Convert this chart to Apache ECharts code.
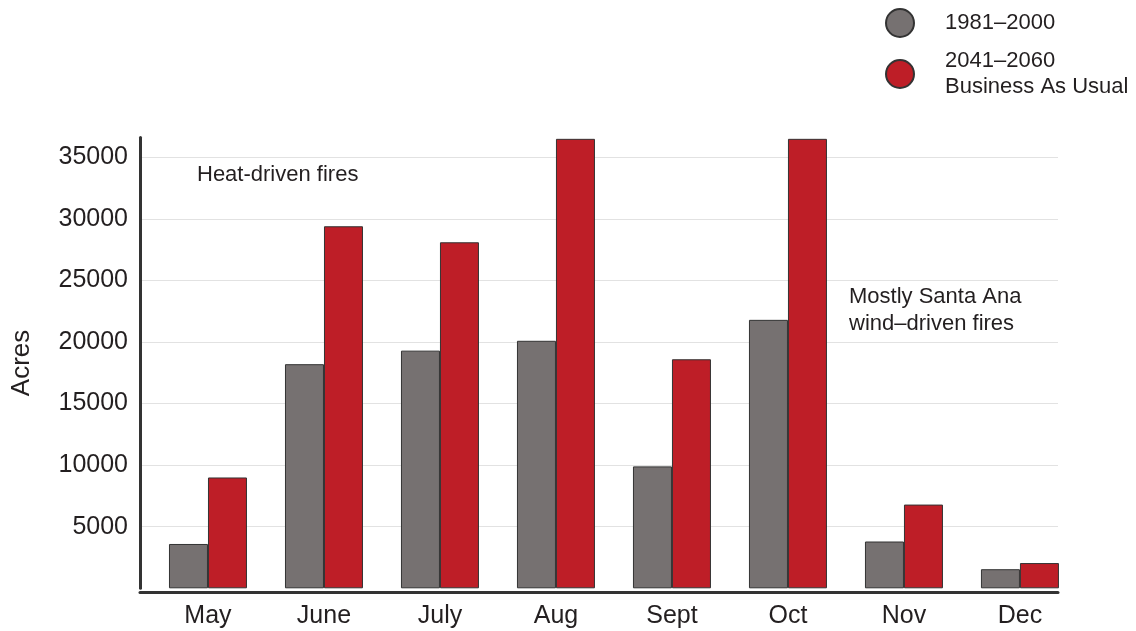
<!DOCTYPE html>
<html>
<head>
<meta charset="utf-8">
<script src="https://cdn.jsdelivr.net/npm/echarts@6/dist/echarts.min.js"></script>
<style>
html,body{margin:0;padding:0;background:#fff;}
#chart{width:1136px;height:631px;}
</style>
</head>
<body>
<div id="chart"></div>
<script>
const categories = ['May', 'June', 'July', 'Aug', 'Sept', 'Oct', 'Nov', 'Dec'];
const baseline1981 = [3600, 18200, 19300, 20100, 9900, 21800, 3800, 1550];
const bau2041 = [9000, 29400, 28100, 36500, 18600, 36500, 6800, 2050];
const seriesNames = ['1981–2000', '2041–2060\nBusiness As Usual'];
const yAxisName = 'Acres';
const yMax = 36600;
const yInterval = 5000;

const FONT = '"Liberation Sans", Arial, Helvetica, sans-serif';
const TXT = '#231f20';

const chart = echarts.init(document.getElementById('chart'), null, {renderer: 'canvas'});
const catIdx = categories.map((c, i) => i);

chart.setOption({
  animation: false,
  backgroundColor: '#ffffff',
  textStyle: {fontFamily: FONT, color: TXT},
  grid: {left: 140, right: 78, top: 137.6, bottom: 42.7, containLabel: false},
  legend: {
    orient: 'vertical',
    left: 885,
    top: 8,
    padding: 0,
    itemWidth: 28,
    itemHeight: 28,
    itemGap: 9,
    icon: 'circle',
    textStyle: {fontFamily: FONT, fontSize: 22, color: TXT, lineHeight: 26, padding: [0, 0, 2, 26]},
    data: seriesNames
  },
  xAxis: {
    type: 'value',
    min: -0.586,
    max: 7.328,
    axisLine: {show: true, onZero: false, lineStyle: {color: '#333333', width: 3}},
    offset: 3.5,
    axisTick: {show: false},
    splitLine: {show: false},
    axisLabel: {
      customValues: catIdx,
      formatter: v => categories[Math.round(v)] || '',
      fontFamily: FONT, fontSize: 25, color: TXT, margin: 12
    }
  },
  yAxis: {
    type: 'value',
    min: 0,
    max: yMax,
    interval: yInterval,
    name: yAxisName,
    nameLocation: 'middle',
    nameGap: 105,
    nameTextStyle: {fontFamily: FONT, fontSize: 26, color: TXT},
    axisLine: {show: true, onZero: false, lineStyle: {color: '#333333', width: 3}},
    axisTick: {show: false},
    axisLabel: {
      showMinLabel: false, showMaxLabel: false,
      formatter: v => String(v),
      fontFamily: FONT, fontSize: 25, color: TXT, margin: 12
    },
    splitLine: {show: true, showMinLine: false, showMaxLine: false, lineStyle: {color: '#e2e2e2', width: 1}}
  },
  series: [
    {
      name: seriesNames[0],
      type: 'bar',
      barWidth: 39,
      barGap: '0%',
      itemStyle: {color: '#767171', borderColor: '#333333', borderWidth: 1},
      data: baseline1981.map((v, i) => [catIdx[i], v])
    },
    {
      name: seriesNames[1],
      type: 'bar',
      barWidth: 39,
      barGap: '0%',
      itemStyle: {color: '#be1e27', borderColor: '#333333', borderWidth: 1},
      data: bau2041.map((v, i) => [catIdx[i], v])
    }
  ],
  graphic: [
    {type: 'text', style: {x: 197, y: 175, text: 'Heat-driven fires', fontFamily: FONT, fontSize: 22, fill: TXT, verticalAlign: 'middle'}},
    {type: 'text', style: {x: 849, y: 310, text: 'Mostly Santa Ana\nwind–driven fires', fontFamily: FONT, fontSize: 22, lineHeight: 27, fill: TXT, verticalAlign: 'middle'}}
  ]
});
</script>
</body>
</html>
